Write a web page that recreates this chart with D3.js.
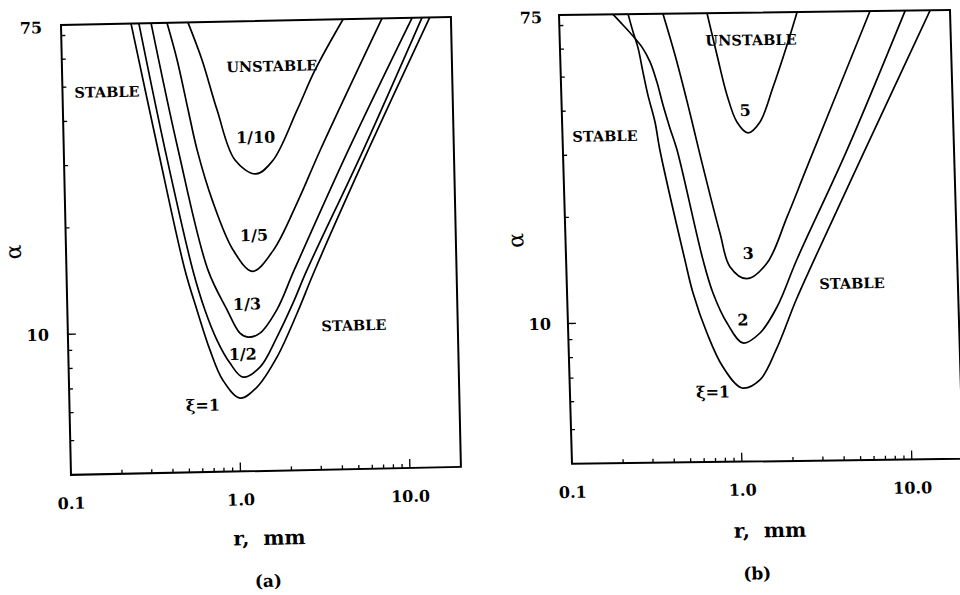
<!DOCTYPE html>
<html>
<head>
<meta charset="utf-8">
<script src="https://cdn.jsdelivr.net/npm/d3@7"></script>
<style>
html, body { margin: 0; padding: 0; background: #fff; }
svg { display: block; font-family: "DejaVu Serif", "Liberation Serif", serif; font-weight: bold; }
</style>
</head>
<body>
<svg id="chart" width="960" height="595"></svg>
<script>
// axis ticks (r in mm, alpha dimensionless, both log)
const rTicksMajor = [1, 10];
const rTicksMinor = [0.2, 0.3, 0.4, 0.5, 0.6, 0.7, 0.8, 0.9, 2, 3, 4, 5, 6, 7, 8, 9];
const aTicksMajor = [10];
const aTicksMinor = [5, 6, 7, 8, 9, 20, 30, 40, 50, 60, 70];
const rTickValues = [0.1, 1, 10];
const rTickText = ['0.1', '1.0', '10.0'];
const aTickValues = [75, 10];
const aTickText = ['75', '10'];

// panel (a) neutral-stability curves, [r, alpha]
const aXi1   = [[0.259, 75], [0.360, 32.8], [0.500, 14.96], [0.582, 11.5], [0.686, 8.85], [0.810, 7.26], [1.015, 6.45],
                [1.284, 6.91], [1.70, 8.38], [2.26, 11.1], [2.92, 14.7], [6.25, 31.9], [15.0, 75]];
const aXi1_2 = [[0.288, 75], [0.396, 32.8], [0.557, 14.9], [0.648, 11.5], [0.756, 9.44], [0.896, 8.11], [1.064, 7.39],
                [1.345, 7.87], [1.71, 9.55], [2.15, 11.9], [2.62, 14.7], [5.84, 31.9], [13.5, 75]];
const aXi1_3 = [[0.340, 75], [0.473, 32.7], [0.684, 14.9], [0.874, 11.5], [1.036, 9.84], [1.153, 9.58], [1.359, 9.82],
                [1.72, 11.4], [2.20, 14.7], [4.76, 31.9], [11.8, 75]];
const aXi1_5 = [[0.422, 75], [0.479, 58.8], [0.548, 42.4], [0.612, 32.6], [0.740, 23.5], [0.970, 16.9], [1.25, 14.7],
                [1.67, 16.8], [2.38, 23.2], [3.26, 32.1], [7.84, 75]];
const aXi1_10 = [[0.561, 75], [0.672, 58.6], [0.812, 42.2], [1.02, 30.4], [1.35, 27.7], [1.71, 30.2], [2.41, 41.8],
                 [3.11, 54.1], [4.62, 75]];

// panel (b)
const bXi1 = [[0.255, 75], [0.271, 66.7], [0.288, 60.1], [0.305, 51.3], [0.323, 44.2], [0.352, 37.0], [0.372, 30.8],
              [0.500, 15.0], [0.551, 12.08], [0.655, 9.29], [0.803, 7.43], [1.03, 6.47], [1.318, 6.81],
              [1.66, 8.27], [2.22, 11.44], [2.79, 14.4], [5.99, 30.3], [15.3, 75]];
const bXi2 = [[0.208, 75], [0.237, 69.9], [0.267, 65.4], [0.304, 60.4], [0.337, 54.8], [0.367, 48.0], [0.395, 41.3],
              [0.430, 35.5], [0.469, 30.8], [0.639, 14.98], [0.722, 12.06], [0.863, 9.90], [1.063, 8.68],
              [1.344, 9.25], [1.71, 10.95], [2.28, 14.9], [4.69, 30.3], [10.9, 75]];
const bXi3 = [[0.409, 75], [0.474, 57.2], [0.554, 41.2], [0.640, 29.7], [0.813, 17.8], [0.918, 14.3], [1.15, 13.2],
              [1.52, 14.6], [2.03, 19.7], [2.71, 27.2], [6.77, 75]];
const bXi5 = [[0.743, 75], [0.837, 57.0], [0.943, 43.9], [1.07, 36.7], [1.235, 34.2], [1.46, 36.7], [1.76, 45.8],
              [2.17, 60.5], [2.52, 75]];

// in-plot annotations: [text, r, alpha]
const aNotes = [['UNSTABLE', 1.73, 55.8], ['STABLE', 0.183, 48.2], ['1/10', 1.36, 35.2], ['1/5', 1.29, 18.6],
                ['1/3', 1.15, 11.9], ['STABLE', 4.88, 10.2], ['1/2', 1.07, 8.59], ['ξ=1', 0.613, 6.19]];
const bNotes = [['UNSTABLE', 1.335, 62.7], ['5', 1.20, 39.7], ['STABLE', 0.178, 33.9], ['3', 1.18, 15.6],
                ['STABLE', 4.77, 12.7], ['2', 1.07, 10.1], ['ξ=1', 0.695, 6.32]];

const svg = d3.select('#chart');

function drawPanel(p) {
    const x = d3.scaleLog().domain([0.1, 20]).range([0, p.w]);
    const y = d3.scaleLog().domain([4, 75]).range([p.h, 0]);
    // the scanned figure is slightly skewed
    const g = svg.append('g').attr('transform', `matrix(${p.m.join(',')})`);

    g.append('clipPath').attr('id', 'clip-' + p.id)
        .append('rect').attr('width', p.w).attr('height', p.h);

    // inward ticks
    g.append('g').selectAll('line')
        .data(rTicksMajor.concat(rTicksMinor))
        .join('line')
        .attr('x1', d => x(d)).attr('x2', d => x(d))
        .attr('y1', p.h).attr('y2', d => p.h - (rTicksMajor.includes(d) ? 9 : 4))
        .attr('stroke', '#000').attr('stroke-width', 1.3);
    g.append('g').selectAll('line')
        .data(aTicksMajor.concat(aTicksMinor))
        .join('line')
        .attr('y1', d => y(d)).attr('y2', d => y(d))
        .attr('x1', 0).attr('x2', d => aTicksMajor.includes(d) ? 8 : 4)
        .attr('stroke', '#000').attr('stroke-width', 1.3);

    const line = d3.line()
        .x(d => x(d[0]))
        .y(d => y(d[1]))
        .curve(d3.curveCatmullRom.alpha(0.5));

    g.append('g').attr('clip-path', `url(#clip-${p.id})`)
        .selectAll('path')
        .data(p.curves)
        .join('path')
        .attr('d', line)
        .attr('fill', 'none')
        .attr('stroke', '#000')
        .attr('stroke-width', 1.7);

    g.append('rect')
        .attr('width', p.w).attr('height', p.h)
        .attr('fill', 'none').attr('stroke', '#000').attr('stroke-width', 2);

    // tick labels
    g.append('g').selectAll('text')
        .data(rTickValues)
        .join('text')
        .attr('x', d => x(d)).attr('y', p.h + 34)
        .attr('text-anchor', 'middle').attr('font-size', 16)
        .text((d, i) => rTickText[i]);
    g.append('g').selectAll('text')
        .data(aTickValues)
        .join('text')
        .attr('x', p.yLabX).attr('y', d => Math.max(y(d), 2) + 6)
        .attr('text-anchor', 'end').attr('font-size', 16)
        .text((d, i) => aTickText[i]);

    g.append('text')
        .attr('transform', `translate(${p.alphaPos[0]},${p.alphaPos[1]}) rotate(-90)`)
        .attr('text-anchor', 'middle').attr('dy', '0.35em')
        .attr('font-size', 22).attr('font-weight', 'normal')
        .text('α');

    g.append('text')
        .attr('x', p.rPos[0]).attr('y', p.rPos[1])
        .attr('text-anchor', 'middle').attr('font-size', 20)
        .attr('xml:space', 'preserve')
        .text('r,  mm');

    g.append('text')
        .attr('x', p.capPos[0]).attr('y', p.capPos[1])
        .attr('text-anchor', 'middle').attr('font-size', 17)
        .text(p.caption);

    g.append('g').selectAll('text')
        .data(p.notes)
        .join('text')
        .attr('x', d => x(d[1])).attr('y', d => y(d[2]))
        .attr('dy', '0.36em')
        .attr('text-anchor', 'middle')
        .attr('font-size', d => /STABLE/.test(d[0]) ? 14.5 : 16)
        .text(d => d[0]);
}

drawPanel({
    id: 'a', w: 390, h: 450,
    m: [0.99979, -0.02051, 0.02222, 0.99975, 61, 25],
    curves: [aXi1, aXi1_2, aXi1_3, aXi1_5, aXi1_10],
    notes: aNotes,
    yLabX: -19, alphaPos: [-53, 226], rPos: [197, 524], capPos: [195, 566], caption: '(a)'
});

drawPanel({
    id: 'b', w: 391, h: 449,
    m: [0.99992, -0.01279, 0.02895, 0.99958, 559, 15],
    curves: [bXi1, bXi2, bXi3, bXi5],
    notes: bNotes,
    yLabX: -17, alphaPos: [-50, 225], rPos: [196, 525], capPos: [182, 567], caption: '(b)'
});
</script>
</body>
</html>
